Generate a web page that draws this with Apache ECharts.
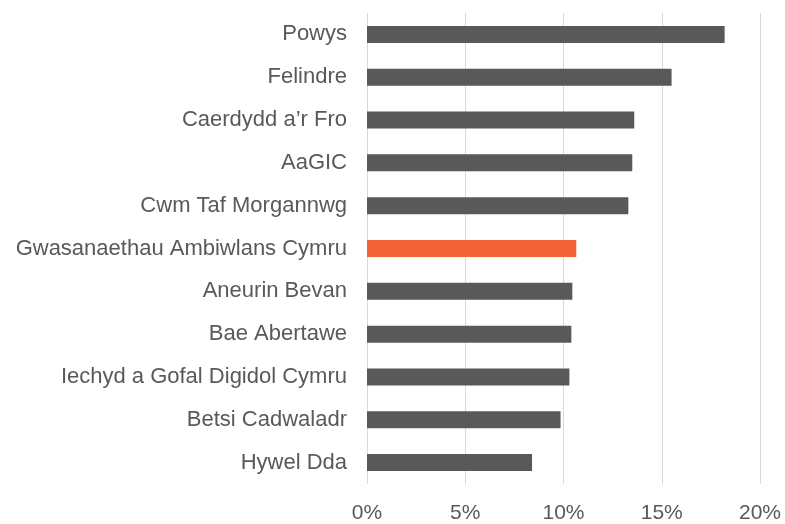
<!DOCTYPE html>
<html>
<head>
<meta charset="utf-8">
<script src="https://cdn.jsdelivr.net/npm/echarts@6/dist/echarts.min.js"></script>
<style>
html,body{margin:0;padding:0;background:#fff;}
#chart{width:785px;height:524px;}
</style>
</head>
<body>
<div id="chart"></div>
<script>
var categories = ["Powys","Felindre","Caerdydd a\u2019r Fro","AaGIC","Cwm Taf Morgannwg","Gwasanaethau Ambiwlans Cymru","Aneurin Bevan","Bae Abertawe","Iechyd a Gofal Digidol Cymru","Betsi Cadwaladr","Hywel Dda"];
var values = [18.2, 15.5, 13.6, 13.5, 13.3, 10.65, 10.45, 10.4, 10.3, 9.85, 8.4];
var highlight = "Gwasanaethau Ambiwlans Cymru";
var xTicks = [0, 5, 10, 15, 20];

var chart = echarts.init(document.getElementById('chart'));
chart.setOption({
  animation: false,
  grid: {left: 367, right: 25, top: 13, bottom: 38.5, containLabel: false},
  xAxis: {
    type: 'value', min: xTicks[0], max: xTicks[xTicks.length - 1], interval: xTicks[1] - xTicks[0],
    axisLine: {show: false}, axisTick: {show: false},
    splitLine: {show: true, lineStyle: {color: '#d9d9d9', width: 1}},
    axisLabel: {color: '#595959', fontSize: 21, fontFamily: 'Liberation Sans, Arial, sans-serif', margin: 19,
      formatter: function(v){ return v + '%'; }}
  },
  yAxis: {
    type: 'category', inverse: true, data: categories,
    axisLine: {show: false}, axisTick: {show: false},
    axisLabel: {color: '#595959', fontSize: 22, fontFamily: 'Liberation Sans, Arial, sans-serif', margin: 20}
  },
  series: [{
    type: 'bar', barWidth: 17,
    data: values.map(function(v, i){
      return {value: v, itemStyle: {color: categories[i] === highlight ? '#f26239' : '#595959'}};
    })
  }]
});
</script>
</body>
</html>
